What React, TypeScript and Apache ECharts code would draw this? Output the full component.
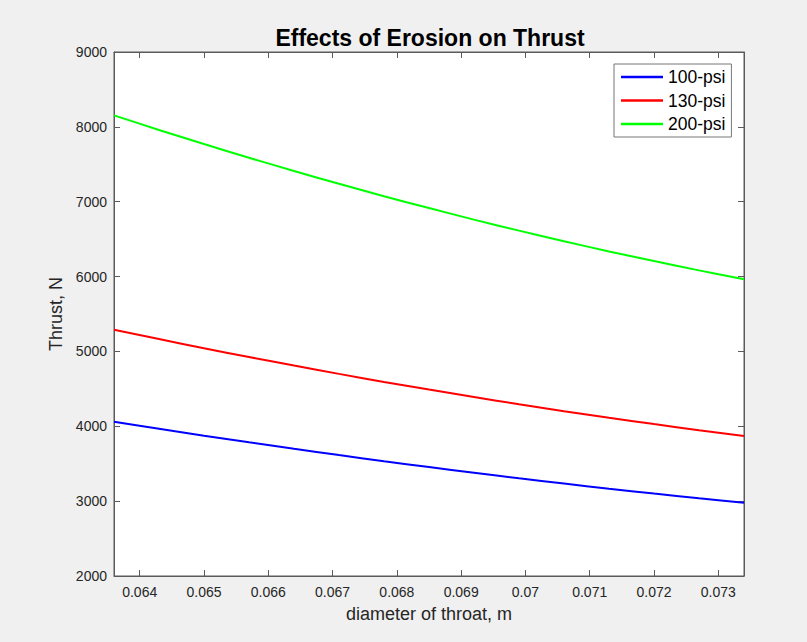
import React, { useEffect, useRef } from "react";
import * as echarts from "echarts";

// Throat diameter samples (m)
const diameters = [
  0.0636, 0.0643, 0.065, 0.0657, 0.0664, 0.0671, 0.0678, 0.0685, 0.0692,
  0.0699, 0.0706, 0.0713, 0.072, 0.0727, 0.0734,
];

// Thrust (N) at each chamber pressure
const thrust100 = [
  4062, 3968, 3875, 3786, 3699, 3615, 3533, 3455, 3379, 3305, 3235, 3166,
  3101, 3038, 2978,
];
const thrust130 = [
  5290, 5165, 5043, 4925, 4811, 4700, 4593, 4490, 4391, 4294, 4202, 4113,
  4029, 3947, 3870,
];
const thrust200 = [
  8154, 7959, 7770, 7587, 7411, 7239, 7074, 6915, 6761, 6614, 6472, 6336,
  6207, 6083, 5965,
];

const seriesNames = ["100-psi", "130-psi", "200-psi"];
const seriesColors = ["#0000ff", "#ff0000", "#00ff00"];

const xTicks = [0.064, 0.065, 0.066, 0.067, 0.068, 0.069, 0.07, 0.071, 0.072, 0.073];
const xMin = 0.0636;
const xMax = 0.0734;
const yMin = 2000;
const yMax = 9000;
const yStep = 1000;

const FONT = "'Liberation Sans', Arial, Helvetica, sans-serif";
const AXIS_COLOR = "#5a5a5a";
const TEXT_COLOR = "#262626";

export default function App() {
  const ref = useRef<HTMLDivElement>(null);

  useEffect(() => {
    document.body.style.margin = "0";
    if (!ref.current) return;
    const chart = echarts.init(ref.current, null, { renderer: "svg" });

    const pairs = (ys: number[]) => diameters.map((d, i) => [d, ys[i]]);
    const allSeries = [thrust100, thrust130, thrust200];

    const axisLine = { show: true, lineStyle: { color: AXIS_COLOR, width: 1 } };
    const tickStyle = { color: AXIS_COLOR, width: 1 };

    chart.setOption({
      animation: false,
      backgroundColor: "#f0f0f0",
      textStyle: { fontFamily: FONT },
      title: {
        text: "Effects of Erosion on Thrust",
        left: 425,
        textAlign: "center",
        top: 21,
        textStyle: {
          fontFamily: FONT,
          fontSize: 23,
          fontWeight: "bold",
          color: "#000",
        },
      },
      grid: {
        left: 114,
        right: 63,
        top: 52,
        bottom: 66,
        show: true,
        backgroundColor: "#ffffff",
        borderColor: AXIS_COLOR,
        borderWidth: 1,
      },
      legend: {
        orient: "vertical",
        left: 614,
        top: 64,
        data: seriesNames.map((n) => ({ name: n, icon: "rect" })),
        itemWidth: 42,
        itemHeight: 2.5,
        itemGap: 5.5,
        backgroundColor: "#ffffff",
        borderColor: "#777",
        borderWidth: 1,
        borderRadius: 0,
        padding: [4, 6, 4, 7],
        textStyle: {
          fontFamily: FONT,
          fontSize: 17.5,
          color: "#000",
          lineHeight: 18,
          padding: [0, 0, 0, 0],
        },
      },
      xAxis: [
        {
          type: "value",
          min: xMin,
          max: xMax,
          name: "diameter of throat, m",
          nameLocation: "middle",
          nameGap: 29,
          nameTextStyle: { fontFamily: FONT, fontSize: 18, color: TEXT_COLOR },
          axisLine,
          axisTick: {
            show: true,
            inside: true,
            length: 6,
            lineStyle: tickStyle,
            customValues: xTicks,
          },
          axisLabel: {
            show: true,
            fontFamily: FONT,
            fontSize: 14,
            color: TEXT_COLOR,
            margin: 9,
            customValues: xTicks,
            formatter: (v: number) => String(+v.toFixed(3)),
          },
          splitLine: { show: false },
        },
        {
          type: "value",
          position: "top",
          min: xMin,
          max: xMax,
          axisLine,
          axisTick: {
            show: true,
            inside: true,
            length: 6,
            lineStyle: tickStyle,
            customValues: xTicks,
          },
          axisLabel: { show: false, customValues: xTicks },
          splitLine: { show: false },
        },
      ],
      yAxis: [
        {
          type: "value",
          min: yMin,
          max: yMax,
          interval: yStep,
          name: "Thrust, N",
          nameLocation: "middle",
          nameGap: 40,
          nameRotate: 90,
          nameTextStyle: { fontFamily: FONT, fontSize: 18, color: TEXT_COLOR },
          axisLine,
          axisTick: { show: true, inside: true, length: 6, lineStyle: tickStyle },
          axisLabel: {
            fontFamily: FONT,
            fontSize: 14,
            color: TEXT_COLOR,
            margin: 7,
            formatter: (v: number) => String(v),
          },
          splitLine: { show: false },
        },
        {
          type: "value",
          position: "right",
          min: yMin,
          max: yMax,
          interval: yStep,
          axisLine,
          axisTick: { show: true, inside: true, length: 6, lineStyle: tickStyle },
          axisLabel: { show: false },
          splitLine: { show: false },
        },
      ],
      series: allSeries.map((ys, i) => ({
        name: seriesNames[i],
        type: "line",
        xAxisIndex: 0,
        yAxisIndex: 0,
        data: pairs(ys),
        showSymbol: false,
        smooth: 0.3,
        lineStyle: { color: seriesColors[i], width: 2 },
        itemStyle: { color: seriesColors[i] },
      })),
    });

    return () => chart.dispose();
  }, []);

  return <div ref={ref} style={{ width: 807, height: 642 }} />;
}
